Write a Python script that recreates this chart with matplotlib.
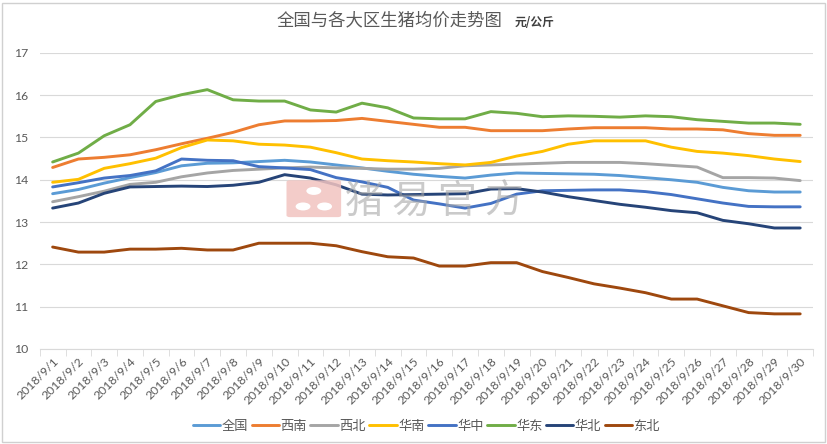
import numpy as np
import matplotlib.pyplot as plt
from matplotlib.patches import FancyBboxPatch, Rectangle, Circle

plt.rcParams['font.family'] = ['Noto Sans CJK SC', 'DejaVu Sans']

# dates on the category axis
dates = [f"2018/9/{d}" for d in range(1, 31)]

# regional average hog prices (yuan / kg)
quanguo = [13.67, 13.77, 13.92, 14.05, 14.17, 14.33, 14.39, 14.40, 14.43, 14.46,
           14.42, 14.35, 14.28, 14.20, 14.13, 14.08, 14.04, 14.11, 14.16, 14.15,
           14.14, 14.13, 14.10, 14.05, 14.00, 13.94, 13.82, 13.74, 13.71, 13.71]
xinan = [14.29, 14.49, 14.53, 14.59, 14.71, 14.85, 14.98, 15.12, 15.30, 15.39,
         15.39, 15.40, 15.45, 15.38, 15.31, 15.24, 15.24, 15.16, 15.16, 15.16,
         15.20, 15.23, 15.23, 15.23, 15.20, 15.20, 15.18, 15.09, 15.05, 15.05]
xibei = [13.48, 13.60, 13.73, 13.89, 13.94, 14.07, 14.16, 14.22, 14.25, 14.28,
         14.30, 14.28, 14.27, 14.25, 14.25, 14.27, 14.33, 14.35, 14.37, 14.39,
         14.41, 14.41, 14.41, 14.38, 14.34, 14.30, 14.05, 14.05, 14.04, 13.98]
huanan = [13.94, 14.01, 14.27, 14.38, 14.51, 14.76, 14.94, 14.92, 14.84, 14.82,
          14.77, 14.64, 14.49, 14.45, 14.42, 14.38, 14.35, 14.41, 14.56, 14.67,
          14.84, 14.92, 14.92, 14.92, 14.77, 14.67, 14.63, 14.57, 14.49, 14.43]
huazhong = [13.83, 13.93, 14.04, 14.10, 14.21, 14.49, 14.46, 14.45, 14.31, 14.28,
            14.24, 14.05, 13.95, 13.82, 13.52, 13.43, 13.33, 13.44, 13.66, 13.74,
            13.75, 13.76, 13.76, 13.72, 13.65, 13.55, 13.45, 13.37, 13.36, 13.36]
huadong = [14.42, 14.63, 15.04, 15.30, 15.85, 16.01, 16.13, 15.89, 15.86, 15.86,
           15.65, 15.60, 15.81, 15.70, 15.46, 15.44, 15.44, 15.61, 15.57, 15.49,
           15.51, 15.50, 15.48, 15.51, 15.49, 15.42, 15.38, 15.34, 15.34, 15.31]
huabei = [13.33, 13.45, 13.68, 13.83, 13.84, 13.85, 13.84, 13.87, 13.94, 14.12,
          14.04, 13.88, 13.66, 13.64, 13.65, 13.66, 13.67, 13.78, 13.79, 13.71,
          13.60, 13.51, 13.42, 13.35, 13.27, 13.22, 13.04, 12.96, 12.86, 12.86]
dongbei = [12.41, 12.29, 12.29, 12.36, 12.36, 12.38, 12.34, 12.34, 12.50, 12.50,
           12.50, 12.44, 12.30, 12.18, 12.15, 11.96, 11.96, 12.04, 12.04, 11.83,
           11.69, 11.54, 11.44, 11.33, 11.18, 11.18, 11.02, 10.86, 10.83, 10.83]

series = [("全国", quanguo, "#5B9BD5"),
          ("西南", xinan, "#ED7D31"),
          ("西北", xibei, "#A5A5A5"),
          ("华南", huanan, "#FFC000"),
          ("华中", huazhong, "#4472C4"),
          ("华东", huadong, "#70AD47"),
          ("华北", huabei, "#264478"),
          ("东北", dongbei, "#9E480E")]

fig = plt.figure(figsize=(8.28, 4.44), dpi=100)
ax = fig.add_axes([0.048, 0.214, 0.934, 0.667])

x = np.arange(len(dates))
for name, vals, col in series:
    ax.plot(x, vals, color=col, lw=2.1, label=name, solid_capstyle='round')

ax.set_xlim(-0.5, len(dates) - 0.5)
ax.set_ylim(10, 17)
ax.set_yticks(range(10, 18))
ax.yaxis.grid(True, color='#D9D9D9', lw=0.8)
ax.set_axisbelow(True)
for s in ['top', 'right', 'left']:
    ax.spines[s].set_visible(False)
ax.spines['bottom'].set_color('#D9D9D9')

ax.set_xticks(x)
ax.set_xticklabels(dates, rotation=45, ha='right', va='top', rotation_mode='anchor',
                   fontsize=8.8, color='#595959', family=['Lato', 'DejaVu Sans'])
ax.tick_params(axis='x', which='major', length=0, pad=5)
ax.set_xticks(np.arange(-0.5, len(dates)), minor=True)
ax.tick_params(axis='x', which='minor', length=5, color='#D9D9D9')
ax.tick_params(axis='y', length=0, labelsize=8.8, labelcolor='#595959', pad=8)
for t in ax.get_yticklabels():
    t.set_family(['Lato', 'DejaVu Sans'])

fig.text(0.47, 0.955, "全国与各大区生猪均价走势图", ha='center', va='center',
         fontsize=12.5, color='#595959')
fig.text(0.622, 0.950, "元/公斤", ha='left', va='center', fontsize=8.5,
         color='#404040', weight='bold')

# watermark
logo = FancyBboxPatch((0.350, 0.515), 0.058, 0.075, boxstyle="round,pad=0.004",
                      transform=fig.transFigure, fc='#F2C4C0', ec='none', alpha=0.85)
fig.patches.append(logo)
for cx, cy in [(0.379, 0.570), (0.366, 0.535), (0.392, 0.535)]:
    fig.patches.append(Circle((cx, cy), 0.009, transform=fig.transFigure,
                              fc='white', ec='none'))
for i, ch in enumerate("猪易官方"):
    fig.text(0.440 + i * 0.056, 0.545, ch, ha='center', va='center', fontsize=28,
             color='#A8A8A8', alpha=0.6)

ax.legend(loc='center', bbox_to_anchor=(0.5, -0.262), ncol=8, frameon=False,
          fontsize=9.5, handlelength=2.1, handletextpad=0.1, columnspacing=0.25,
          labelcolor='#595959')

fig.patches.append(Rectangle((0.002, 0.004), 0.994, 0.99, transform=fig.transFigure,
                             fill=False, ec='#D0D0D0', lw=1))

fig.savefig("out.png", dpi=100)
